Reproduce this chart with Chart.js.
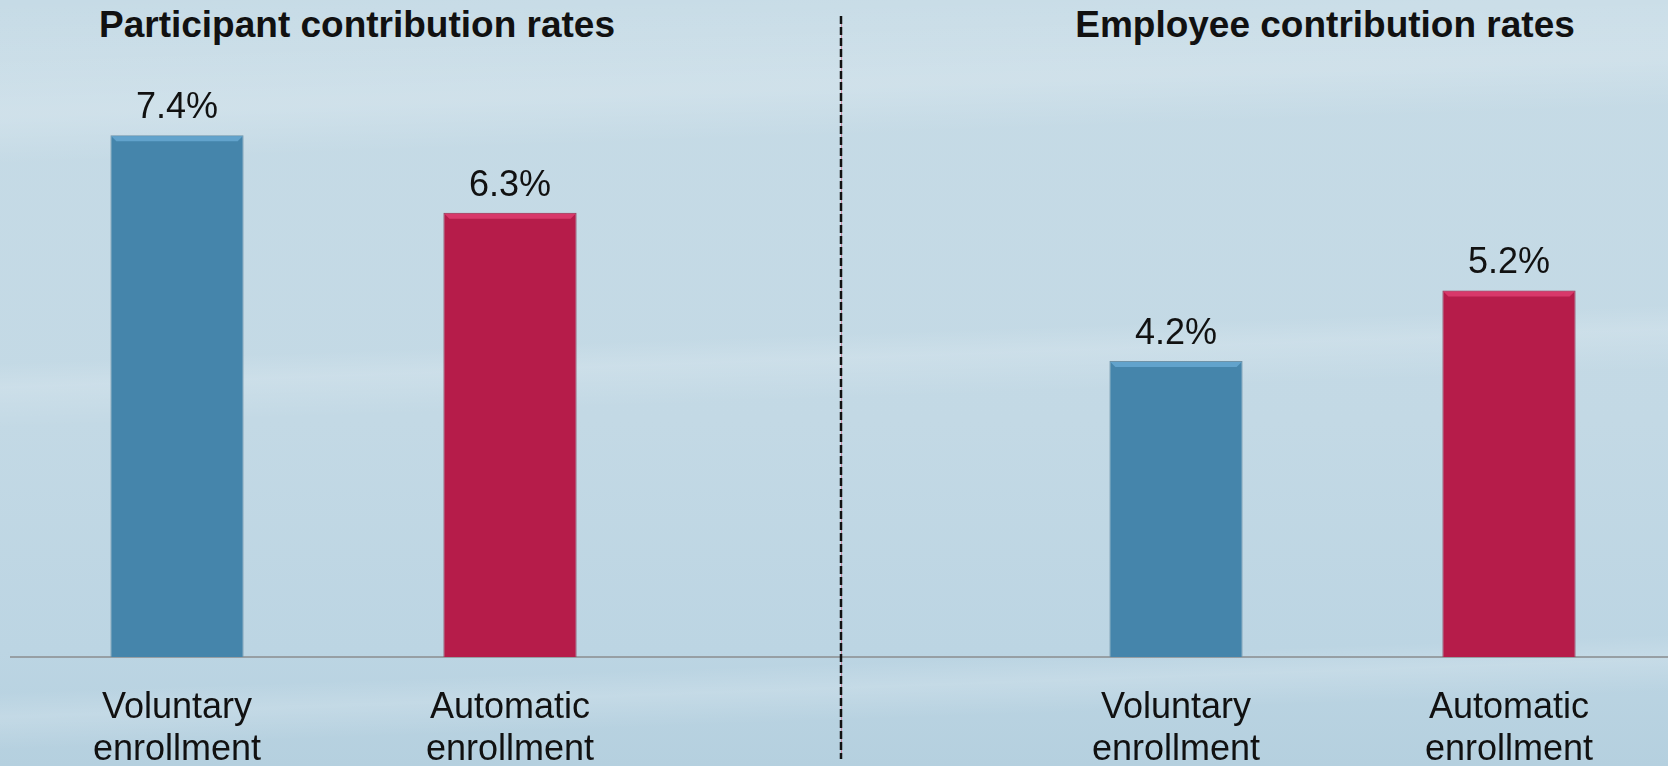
<!DOCTYPE html>
<html>
<head>
<meta charset="utf-8">
<script src="https://cdn.jsdelivr.net/npm/chart.js@4"></script>
<style>
  html, body { margin: 0; padding: 0; width: 1668px; height: 766px; overflow: hidden; }
  body {
    position: relative;
    font-family: "Liberation Sans", Arial, sans-serif;
    background:
      linear-gradient(178deg, rgba(255,255,255,0) 0%, rgba(255,255,255,0.18) 14%, rgba(255,255,255,0) 20%,
        rgba(255,255,255,0) 44%, rgba(255,255,255,0.15) 47%, rgba(255,255,255,0) 52%,
        rgba(255,255,255,0) 84%, rgba(255,255,255,0.16) 87%, rgba(255,255,255,0) 91%),
      linear-gradient(180deg, #c6dbe6 0%, #c3d9e5 55%, #bcd5e3 85%, #b5d0df 100%);
  }
  canvas { position: absolute; left: 0; top: 0; }
  .title {
    position: absolute; top: 4px; font-weight: bold; font-size: 37px;
    color: #111; white-space: nowrap; transform: translateX(-50%);
  }
</style>
</head>
<body>
<div class="title" style="left:357px">Participant contribution rates</div>
<div class="title" style="left:1325px">Employee contribution rates</div>
<canvas id="chart" width="1676" height="766"></canvas>
<script>
// five slots: two per panel, an empty one in the middle for the divider
const categories = [
  ['Voluntary', 'enrollment'],
  ['Automatic', 'enrollment'],
  '',
  ['Voluntary', 'enrollment'],
  ['Automatic', 'enrollment']
];
const rates = [7.4, 6.3, null, 4.2, 5.2];
const valueLabels = ['7.4%', '6.3%', '', '4.2%', '5.2%'];
const barColors = ['#4585ab', '#b61c4a', '#4585ab', '#4585ab', '#b61c4a'];
const edgeColors = ['#6f93a8', '#8e3a55', '#6f93a8', '#6f93a8', '#8e3a55'];
const topColors = ['#62a3cc', '#d8386a', '#62a3cc', '#62a3cc', '#d8386a'];

const extras = {
  id: 'extras',
  afterDatasetsDraw(chart) {
    const c = chart.ctx;
    const meta = chart.getDatasetMeta(0);
    meta.data.forEach((bar, i) => {
      if (rates[i] == null) return;
      const w = bar.width, x0 = bar.x - w / 2, x1 = bar.x + w / 2, y = bar.y;
      // bevel strip at the top
      c.save();
      c.fillStyle = topColors[i];
      c.beginPath();
      c.moveTo(x0 + 1, y + 1);
      c.lineTo(x1 - 1, y + 1);
      c.lineTo(x1 - 6, y + 6);
      c.lineTo(x0 + 6, y + 6);
      c.closePath();
      c.fill();
      c.restore();
      // value label
      c.save();
      c.font = '36px "Liberation Sans", Arial, sans-serif';
      c.fillStyle = '#111';
      c.textAlign = 'center';
      c.textBaseline = 'alphabetic';
      c.fillText(valueLabels[i], bar.x, y - 17);
      c.restore();
    });
    // dashed divider in the empty middle slot
    const xd = Math.round(chart.scales.x.getPixelForValue(2)) - 2;
    c.save();
    c.strokeStyle = 'rgba(210,85,122,0.6)';
    c.lineWidth = 1;
    c.beginPath(); c.moveTo(xd + 0.5, 16); c.lineTo(xd + 0.5, 759); c.stroke();
    c.strokeStyle = '#111';
    c.lineWidth = 2.5;
    c.setLineDash([8, 3]);
    c.beginPath(); c.moveTo(xd, 16); c.lineTo(xd, 759); c.stroke();
    c.restore();
  }
};

new Chart(document.getElementById('chart'), {
  type: 'bar',
  data: {
    labels: categories,
    datasets: [{
      data: rates,
      backgroundColor: barColors,
      borderColor: edgeColors,
      borderWidth: 1,
      categoryPercentage: 1,
      barPercentage: 0.4
    }]
  },
  options: {
    responsive: false,
    animation: false,
    events: [],
    layout: { padding: { left: 10.5, right: 0.5, top: 22.5, bottom: 0 } },
    plugins: { legend: { display: false }, tooltip: { enabled: false } },
    scales: {
      x: {
        grid: { display: false, drawTicks: false },
        border: { display: true, color: '#979fa4', width: 2 },
        ticks: {
          color: '#111',
          padding: 30,
          maxRotation: 0,
          autoSkip: false,
          font: { family: '"Liberation Sans", Arial, sans-serif', size: 36, lineHeight: 1.16 }
        },
        afterFit(scale) { scale.height = 109; }
      },
      y: {
        display: false,
        min: 0,
        max: 9
      }
    }
  },
  plugins: [extras]
});
</script>
</body>
</html>
